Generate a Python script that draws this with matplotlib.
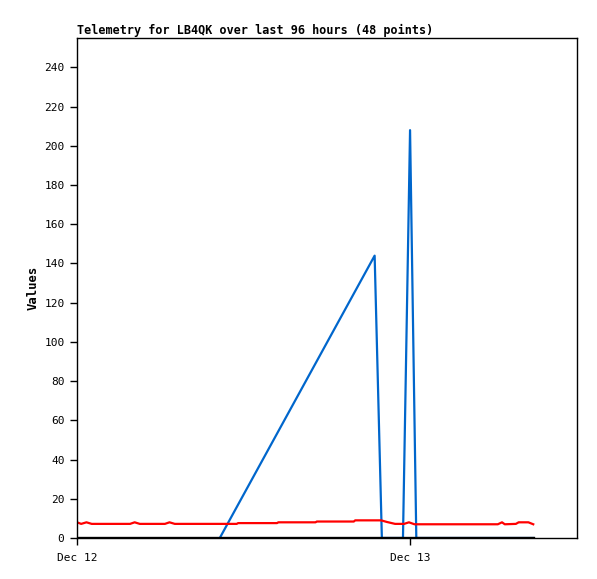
import matplotlib
matplotlib.use('Agg')
import matplotlib.pyplot as plt

# hours since Dec 12 00:00
red_hours = [0, 0.3, 0.68, 1.06, 3.82, 4.15, 4.52, 6.33, 6.66, 7.04,
             11.5, 11.6, 14.4, 14.5, 17.17, 17.27, 19.93, 20.03, 21.9,
             22.3, 22.9, 23.55, 23.9, 24.3, 30.3, 30.6, 30.8,
             31.6, 31.8, 32.5, 32.85]
red_values = [8, 7.2, 8, 7.2, 7.2, 8, 7.2, 7.2, 8, 7.2,
              7.2, 7.6, 7.6, 8.0, 8.0, 8.4, 8.4, 9.0, 9.0,
              8.2, 7.2, 7.2, 8, 7, 7, 8, 7,
              7.2, 8, 8, 7]

blue_hours = [10.28, 21.43, 21.95, 23.47, 23.98, 24.43, 32.85]
blue_values = [0, 144, 0, 0, 208, 0, 0]

black_hours = [0, 32.85]
black_values = [0, 0]

tick_pos = [0, 24]
tick_labels = ['Dec 12', 'Dec 13']

plt.rcParams['font.family'] = ['DejaVu Sans Mono']

fig = plt.figure(figsize=(5.97, 5.79), dpi=100)
ax = fig.add_axes([77 / 597, 41 / 579, 500 / 597, 500 / 579])

ax.plot(blue_hours, blue_values, color='#0066cc', linewidth=1.6)
ax.plot(red_hours, red_values, color='#ff0000', linewidth=1.6)
ax.plot(black_hours, black_values, color='#000000', linewidth=2.4)

ax.set_xlim(0, 36)
ax.set_ylim(0, 255)
ax.set_yticks(range(0, 241, 20))
ax.set_xticks(tick_pos)
ax.set_xticklabels(tick_labels)
ax.tick_params(axis='both', direction='out', length=5, width=1, labelsize=8)
ax.tick_params(axis='x', pad=6)
ax.tick_params(axis='y', pad=4)

for s in ax.spines.values():
    s.set_linewidth(1)

ax.set_ylabel('Values', fontsize=8.8, fontweight='bold', labelpad=3)
ax.set_title('Telemetry for LB4QK over last 96 hours (48 points)', loc='left',
             fontsize=8.5, fontweight='bold', pad=3)

plt.savefig('out.png', dpi=100)
